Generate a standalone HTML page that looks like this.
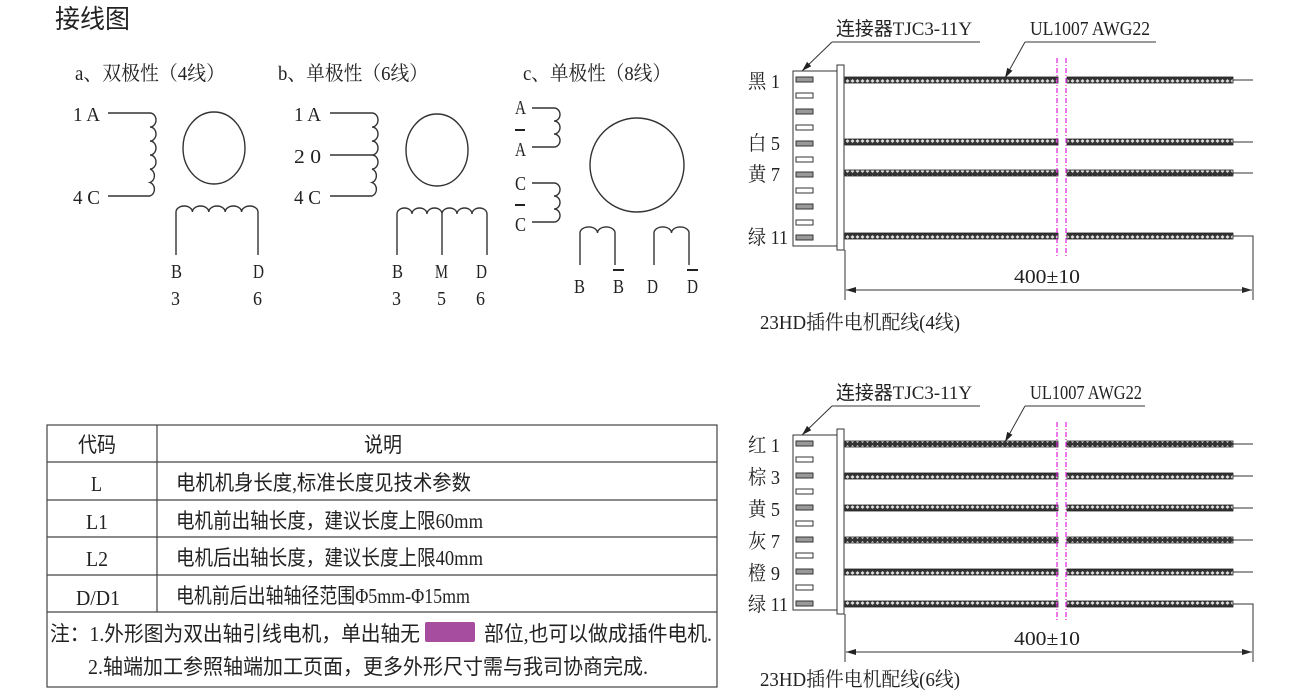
<!DOCTYPE html>
<html><head><meta charset="utf-8"><style>
html,body{margin:0;padding:0;background:#fff;}
svg{display:block;}
text{font-family:"Liberation Serif","Noto Serif CJK SC",serif;fill:#222;}
.c{font-family:"Liberation Serif","Noto Sans CJK SC",sans-serif;}
</style></head><body>
<svg width="1300" height="690" viewBox="0 0 1300 690" xmlns="http://www.w3.org/2000/svg">
<defs>
<pattern id="h" width="5" height="6" patternUnits="userSpaceOnUse">
<rect width="5" height="6" fill="#333"/>
<path d="M0.5 3 L2.5 1 L4.5 3 L2.5 5 Z" fill="#ddd"/>
</pattern>
<marker id="ar" viewBox="0 0 10 6" refX="10" refY="3" markerWidth="10" markerHeight="6" orient="auto" markerUnits="userSpaceOnUse"><path d="M0 0 L10 3 L0 6 Z" fill="#222"/></marker>
</defs>
<g fill="none" stroke="#333" stroke-width="1.4">
<path d="M108 113 H150 a6 7 0 0 1 0 14 a6 7 0 0 1 0 14 a6 7 0 0 1 0 14 a6 7 0 0 1 0 14 a6 7 0 0 1 0 13.5 a6 7 0 0 1 0 13.5 H108"/>
<ellipse cx="214" cy="148" rx="31" ry="36"/>
<path d="M176 255 V212 a8.2 6 0 0 1 16.4 0 a8.2 6 0 0 1 16.4 0 a8.2 6 0 0 1 16.4 0 a8.2 6 0 0 1 16.4 0 a8.2 6 0 0 1 16.4 0 V255"/>
<path d="M330 113 H372 a6 7 0 0 1 0 14 a6 7 0 0 1 0 14 a6 7 0 0 1 0 14 a6 7 0 0 1 0 14 a6 7 0 0 1 0 13.5 a6 7 0 0 1 0 13.5 H330 M330 155 H372"/>
<ellipse cx="437" cy="150" rx="31" ry="36"/>
<path d="M397 255 V214 a7.5 6 0 0 1 15 0 a7.5 6 0 0 1 15 0 a7.5 6 0 0 1 15 0 a7.5 6 0 0 1 15 0 a7.5 6 0 0 1 15 0 a7.5 6 0 0 1 15 0 V255 M442 214 V255"/>
<path d="M532 108 H554 a6 6.5 0 0 1 0 13 a6 6.5 0 0 1 0 13 a6 6.5 0 0 1 0 13 H532"/>
<path d="M532 183 H554 a6 6.5 0 0 1 0 13 a6 6.5 0 0 1 0 13 a6 6.5 0 0 1 0 13 H532"/>
<ellipse cx="637" cy="165" rx="47" ry="47"/>
<path d="M580 265 V233 a8.7 6 0 0 1 17.5 0 a8.7 6 0 0 1 17.5 0 V265"/>
<path d="M654 265 V233 a8.7 6 0 0 1 17.5 0 a8.7 6 0 0 1 17.5 0 V265"/>
</g>
<text x="55" y="28" class="c" font-size="26" textLength="75" lengthAdjust="spacingAndGlyphs">接线图</text>
<g font-size="20">
<text x="75" y="80" textLength="150" lengthAdjust="spacingAndGlyphs">a、双极性（4线）</text>
<text x="278" y="80" textLength="150" lengthAdjust="spacingAndGlyphs">b、单极性（6线）</text>
<text x="523" y="80" textLength="148" lengthAdjust="spacingAndGlyphs">c、单极性（8线）</text>
<text x="73" y="121" textLength="27" lengthAdjust="spacingAndGlyphs">1 A</text><text x="73" y="204" textLength="27" lengthAdjust="spacingAndGlyphs">4 C</text>
<text x="171" y="278" textLength="11" lengthAdjust="spacingAndGlyphs">B</text><text x="253" y="278" textLength="11" lengthAdjust="spacingAndGlyphs">D</text>
<text x="171" y="305" textLength="9" lengthAdjust="spacingAndGlyphs">3</text><text x="253" y="305" textLength="9" lengthAdjust="spacingAndGlyphs">6</text>
<text x="294" y="121" textLength="27" lengthAdjust="spacingAndGlyphs">1 A</text><text x="294" y="163" textLength="27" lengthAdjust="spacingAndGlyphs">2 0</text><text x="294" y="204" textLength="27" lengthAdjust="spacingAndGlyphs">4 C</text>
<text x="392" y="278" textLength="11" lengthAdjust="spacingAndGlyphs">B</text><text x="435" y="278" textLength="13" lengthAdjust="spacingAndGlyphs">M</text><text x="476" y="278" textLength="11" lengthAdjust="spacingAndGlyphs">D</text>
<text x="392" y="305" textLength="9" lengthAdjust="spacingAndGlyphs">3</text><text x="437" y="305" textLength="9" lengthAdjust="spacingAndGlyphs">5</text><text x="476" y="305" textLength="9" lengthAdjust="spacingAndGlyphs">6</text>
<text x="515" y="114" textLength="11" lengthAdjust="spacingAndGlyphs">A</text><text x="515" y="156" textLength="11" lengthAdjust="spacingAndGlyphs">A</text>
<text x="515" y="190" textLength="11" lengthAdjust="spacingAndGlyphs">C</text><text x="515" y="231" textLength="11" lengthAdjust="spacingAndGlyphs">C</text>
<text x="574" y="293" textLength="11" lengthAdjust="spacingAndGlyphs">B</text><text x="613" y="293" textLength="11" lengthAdjust="spacingAndGlyphs">B</text><text x="647" y="293" textLength="11" lengthAdjust="spacingAndGlyphs">D</text><text x="687" y="293" textLength="11" lengthAdjust="spacingAndGlyphs">D</text>
</g>
<g stroke="#222" stroke-width="2">
<line x1="515" y1="130" x2="525" y2="130"/><line x1="515" y1="205" x2="525" y2="205"/>
<line x1="613" y1="270" x2="624" y2="270"/><line x1="687" y1="270" x2="698" y2="270"/>
</g>

<text x="836" y="35" class="c" font-size="19" textLength="136" lengthAdjust="spacingAndGlyphs">连接器TJC3-11Y</text>
<text x="1030" y="35" font-size="20" textLength="120" lengthAdjust="spacingAndGlyphs">UL1007 AWG22</text>
<g stroke="#333" stroke-width="1" fill="none">
<line x1="832" y1="42" x2="980" y2="42"/>
<line x1="1025" y1="42" x2="1156" y2="42"/>
<line x1="832" y1="42" x2="802" y2="71" marker-end="url(#ar)"/>
<line x1="1025" y1="42" x2="1005" y2="78" marker-end="url(#ar)"/>
<rect x="793" y="71" width="44" height="175" fill="#fff"/>
<rect x="837" y="65" width="7" height="185" fill="#fff"/>
</g>
<g stroke="#333" stroke-width="1" fill="#fff">
<rect x="796" y="77" width="17" height="5" fill="#999"/><rect x="796" y="93" width="17" height="5"/>
<rect x="796" y="109" width="17" height="5" fill="#999"/><rect x="796" y="125" width="17" height="5"/>
<rect x="796" y="141" width="17" height="5" fill="#999"/><rect x="796" y="157" width="17" height="5"/>
<rect x="796" y="172" width="17" height="5" fill="#999"/><rect x="796" y="188" width="17" height="5"/>
<rect x="796" y="204" width="17" height="5" fill="#999"/><rect x="796" y="220" width="17" height="5"/>
<rect x="796" y="235" width="17" height="5" fill="#999"/>
</g>
<g fill="url(#h)" stroke="#222" stroke-width="0.8">
<rect x="845" y="77" width="213" height="6"/><rect x="1067" y="77" width="166" height="6"/>
<rect x="845" y="139" width="213" height="6"/><rect x="1067" y="139" width="166" height="6"/>
<rect x="845" y="170" width="213" height="6"/><rect x="1067" y="170" width="166" height="6"/>
<rect x="845" y="233" width="213" height="6"/><rect x="1067" y="233" width="166" height="6"/>
</g>
<g stroke="#333" stroke-width="1" fill="none">
<path d="M1233 80 H1253 M1233 142 H1253 M1233 173 H1253 M1233 236 H1253 V300 M845 250 V300"/>
<line x1="846" y1="290" x2="1252" y2="290" marker-end="url(#ar)"/>
<line x1="1252" y1="290" x2="846" y2="290" marker-end="url(#ar)"/>
</g>
<g stroke="#e020e0" stroke-width="1.2" stroke-dasharray="5 2 1 2">
<line x1="1057" y1="58" x2="1057" y2="258"/><line x1="1066" y1="58" x2="1066" y2="258"/>
</g>
<g font-size="20">
<text x="748" y="88" textLength="32" lengthAdjust="spacingAndGlyphs">黑 1</text><text x="748" y="150" textLength="32" lengthAdjust="spacingAndGlyphs">白 5</text><text x="748" y="181" textLength="32" lengthAdjust="spacingAndGlyphs">黄 7</text><text x="748" y="244" textLength="40" lengthAdjust="spacingAndGlyphs">绿 11</text>
<text x="1014" y="283" textLength="66" lengthAdjust="spacingAndGlyphs">400±10</text>
<text x="760" y="329" textLength="200" lengthAdjust="spacingAndGlyphs">23HD插件电机配线(4线)</text>
</g>

<text x="836" y="399" class="c" font-size="19" textLength="136" lengthAdjust="spacingAndGlyphs">连接器TJC3-11Y</text>
<text x="1030" y="399" font-size="20" textLength="112" lengthAdjust="spacingAndGlyphs">UL1007 AWG22</text>
<g stroke="#333" stroke-width="1" fill="none">
<line x1="832" y1="406" x2="980" y2="406"/>
<line x1="1025" y1="406" x2="1145" y2="406"/>
<line x1="832" y1="406" x2="802" y2="435" marker-end="url(#ar)"/>
<line x1="1025" y1="406" x2="1005" y2="442" marker-end="url(#ar)"/>
<rect x="793" y="435" width="44" height="175" fill="#fff"/>
<rect x="837" y="429" width="7" height="185" fill="#fff"/>
</g>
<g stroke="#333" stroke-width="1" fill="#fff">
<rect x="796" y="441" width="17" height="5" fill="#999"/><rect x="796" y="457" width="17" height="5"/>
<rect x="796" y="473" width="17" height="5" fill="#999"/><rect x="796" y="489" width="17" height="5"/>
<rect x="796" y="505" width="17" height="5" fill="#999"/><rect x="796" y="521" width="17" height="5"/>
<rect x="796" y="537" width="17" height="5" fill="#999"/><rect x="796" y="553" width="17" height="5"/>
<rect x="796" y="569" width="17" height="5" fill="#999"/><rect x="796" y="585" width="17" height="5"/>
<rect x="796" y="601" width="17" height="5" fill="#999"/>
</g>
<g fill="url(#h)" stroke="#222" stroke-width="0.8">
<rect x="845" y="441" width="213" height="6"/><rect x="1067" y="441" width="166" height="6"/>
<rect x="845" y="473" width="213" height="6"/><rect x="1067" y="473" width="166" height="6"/>
<rect x="845" y="505" width="213" height="6"/><rect x="1067" y="505" width="166" height="6"/>
<rect x="845" y="537" width="213" height="6"/><rect x="1067" y="537" width="166" height="6"/>
<rect x="845" y="569" width="213" height="6"/><rect x="1067" y="569" width="166" height="6"/>
<rect x="845" y="601" width="213" height="6"/><rect x="1067" y="601" width="166" height="6"/>
</g>
<g stroke="#333" stroke-width="1" fill="none">
<path d="M1233 444 H1253 M1233 476 H1253 M1233 508 H1253 M1233 540 H1253 M1233 572 H1253 M1233 604 H1253 V662 M845 614 V662"/>
<line x1="846" y1="652" x2="1252" y2="652" marker-end="url(#ar)"/>
<line x1="1252" y1="652" x2="846" y2="652" marker-end="url(#ar)"/>
</g>
<g stroke="#e020e0" stroke-width="1.2" stroke-dasharray="5 2 1 2">
<line x1="1057" y1="422" x2="1057" y2="622"/><line x1="1066" y1="422" x2="1066" y2="622"/>
</g>
<g font-size="20">
<text x="748" y="452" textLength="32" lengthAdjust="spacingAndGlyphs">红 1</text><text x="748" y="484" textLength="32" lengthAdjust="spacingAndGlyphs">棕 3</text><text x="748" y="516" textLength="32" lengthAdjust="spacingAndGlyphs">黄 5</text>
<text x="748" y="548" textLength="32" lengthAdjust="spacingAndGlyphs">灰 7</text><text x="748" y="580" textLength="32" lengthAdjust="spacingAndGlyphs">橙 9</text><text x="748" y="611" textLength="40" lengthAdjust="spacingAndGlyphs">绿 11</text>
<text x="1014" y="645" textLength="66" lengthAdjust="spacingAndGlyphs">400±10</text>
<text x="760" y="686" textLength="200" lengthAdjust="spacingAndGlyphs">23HD插件电机配线(6线)</text>
</g>

<g stroke="#444" stroke-width="1.2" fill="none">
<rect x="47" y="425" width="670" height="262"/>
<path d="M47 462 H717 M47 500 H717 M47 537 H717 M47 575 H717 M47 612 H717 M157 425 V612"/>
</g>
<rect x="425" y="622" width="50" height="20" rx="2" fill="#a64d9f"/>
<g font-size="21">
<text x="78" y="452" class="c" textLength="38" lengthAdjust="spacingAndGlyphs">代码</text>
<text x="364" y="452" class="c" textLength="38" lengthAdjust="spacingAndGlyphs">说明</text>
<text x="91" y="491" textLength="11" lengthAdjust="spacingAndGlyphs">L</text>
<text x="86" y="529" textLength="22" lengthAdjust="spacingAndGlyphs">L1</text>
<text x="86" y="566" textLength="22" lengthAdjust="spacingAndGlyphs">L2</text>
<text x="76" y="605" textLength="44" lengthAdjust="spacingAndGlyphs">D/D1</text>
<text x="176" y="490" class="c" textLength="295" lengthAdjust="spacingAndGlyphs">电机机身长度,标准长度见技术参数</text>
<text x="176" y="528" class="c" textLength="307" lengthAdjust="spacingAndGlyphs">电机前出轴长度，建议长度上限60mm</text>
<text x="176" y="565" class="c" textLength="307" lengthAdjust="spacingAndGlyphs">电机后出轴长度，建议长度上限40mm</text>
<text x="176" y="603" class="c" textLength="294" lengthAdjust="spacingAndGlyphs">电机前后出轴轴径范围Φ5mm-Φ15mm</text>
<text x="50" y="641" class="c" textLength="370" lengthAdjust="spacingAndGlyphs">注：1.外形图为双出轴引线电机，单出轴无</text>
<text x="484" y="641" class="c" textLength="228" lengthAdjust="spacingAndGlyphs">部位,也可以做成插件电机.</text>
<text x="88" y="674" class="c" textLength="560" lengthAdjust="spacingAndGlyphs">2.轴端加工参照轴端加工页面，更多外形尺寸需与我司协商完成.</text>
</g>
</svg>
</body></html>
